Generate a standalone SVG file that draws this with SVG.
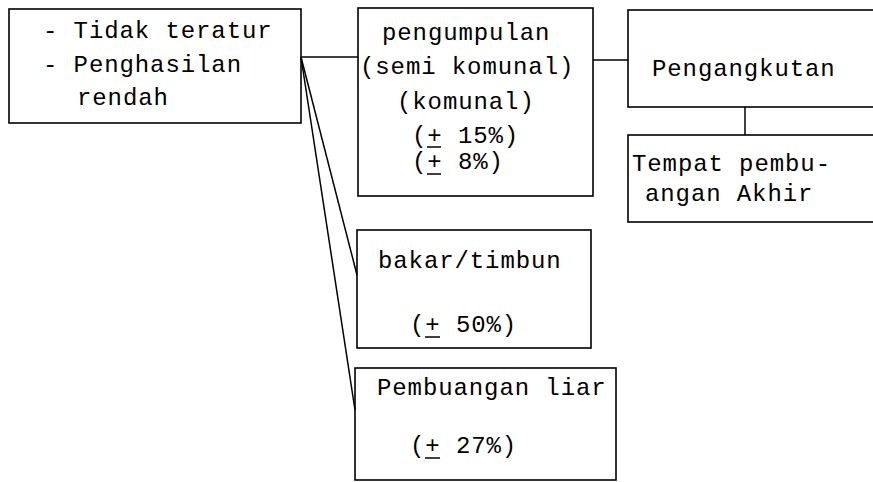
<svg xmlns="http://www.w3.org/2000/svg" width="873" height="482" viewBox="0 0 873 482">
<style>
.box{fill:none;stroke:#000;stroke-width:1.6}
.ln{fill:none;stroke:#000;stroke-width:1.5}
text{font-family:"Liberation Mono","DejaVu Sans Mono",monospace;font-size:24px;letter-spacing:0.9px;fill:#000}
</style>
<rect width="873" height="482" fill="#fff"/>
<g id="connectors">
<line class="ln" x1="301" y1="57" x2="358" y2="57"/>
<line class="ln" x1="593" y1="60" x2="628" y2="60"/>
<line class="ln" x1="745" y1="107" x2="745" y2="135"/>
<line class="ln" x1="301" y1="57" x2="357" y2="275"/>
<line class="ln" x1="301" y1="57" x2="355" y2="410"/>
</g>
<g id="n1">
<rect class="box" x="9" y="9" width="292" height="114"/>
<text x="43" y="38" xml:space="preserve">- Tidak teratur</text>
<text x="43" y="72" xml:space="preserve">- Penghasilan</text>
<text x="77" y="105">rendah</text>
</g>
<g id="n2">
<rect class="box" x="358" y="8" width="235" height="188"/>
<text x="382" y="40">pengumpulan</text>
<text x="360" y="74">(semi komunal)</text>
<text x="397" y="109">(komunal)</text>
<text x="412" y="143" xml:space="preserve">(+ 15%)</text>
<line class="ln" x1="427" y1="147" x2="441" y2="147"/>
<text x="412" y="169" xml:space="preserve">(+ 8%)</text>
<line class="ln" x1="427" y1="174" x2="441" y2="174"/>
</g>
<g id="n3">
<rect class="box" x="628" y="10" width="260" height="97"/>
<text x="652" y="76">Pengangkutan</text>
</g>
<g id="n4">
<rect class="box" x="628" y="135" width="260" height="87"/>
<text x="632" y="171">Tempat pembu-</text>
<text x="645" y="201">angan Akhir</text>
</g>
<g id="n5">
<rect class="box" x="357" y="230" width="234" height="118"/>
<text x="378" y="268">bakar/timbun</text>
<text x="410" y="332" xml:space="preserve">(+ 50%)</text>
<line class="ln" x1="425" y1="337" x2="440" y2="337"/>
</g>
<g id="n6">
<rect class="box" x="355" y="368" width="261" height="112"/>
<text x="377" y="395">Pembuangan liar</text>
<text x="410" y="453" xml:space="preserve">(+ 27%)</text>
<line class="ln" x1="425" y1="458" x2="440" y2="458"/>
</g>
</svg>
